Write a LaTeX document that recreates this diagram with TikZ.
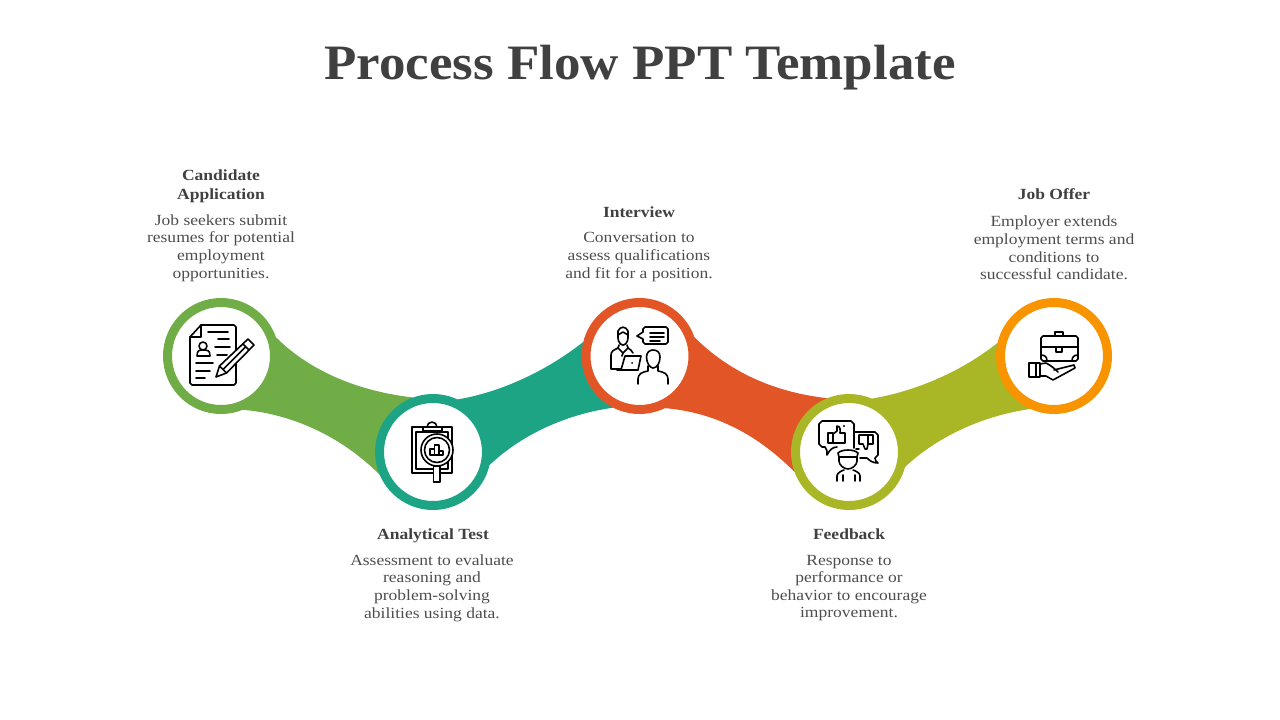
\documentclass[tikz,border=0pt]{standalone}
\usepackage{fontspec}
\setmainfont{Liberation Serif}
\newfontfamily\wideserif[FakeStretch=1.13]{Liberation Serif}
\newfontfamily\titleserif[FakeStretch=1.07]{Liberation Serif}
\usetikzlibrary{backgrounds}

\definecolor{titlegray}{HTML}{404040}
\definecolor{bodygray}{HTML}{4D4D4D}
\definecolor{cgreen}{HTML}{70AD47}
\definecolor{cteal}{HTML}{1DA485}
\definecolor{cred}{HTML}{E25527}
\definecolor{colive}{HTML}{A9B626}
\definecolor{corange}{HTML}{F79400}

\tikzset{
  stepcircle/.style={circle, draw=#1, line width=9pt, fill=white, minimum size=107pt, inner sep=0pt},
  headtext/.style={align=center, text=titlegray, font=\wideserif\bfseries\fontsize{15.5}{18.5}\selectfont},
  bodytext/.style={align=center, text=bodygray, font=\wideserif\fontsize{15.5}{17.6}\selectfont},
  icon/.style={line width=1.6pt, line join=round, line cap=round, black}
}

\begin{document}
\begin{tikzpicture}[x=1pt, y=-1pt]
\useasboundingbox (0,0) rectangle (1280,720);

\node[text=titlegray, font=\titleserif\bfseries\fontsize{49.5}{56}\selectfont] (title) at (640,68) {Process Flow PPT Template};

% circles
\node[stepcircle=cgreen] (candidate) at (221,356) {};
\node[stepcircle=cteal] (analytic) at (433,452) {};
\node[stepcircle=cred] (interview) at (639.5,356) {};
\node[stepcircle=colive] (feedback) at (849,452) {};
\node[stepcircle=corange] (joboffer) at (1054,356) {};

% bands behind the circles
\begin{scope}[on background layer]
\fill[cgreen] (candidate.19) .. controls +(35,35) and +(-53,-6) .. (analytic.110)
  -- (analytic.203) .. controls +(-40,-40) and +(47,4) .. (candidate.-68) -- cycle;
\fill[cteal] (analytic.65) .. controls +(42,-7) and +(-38,30) .. (interview.166)
  -- (interview.243) .. controls +(-43,6) and +(35,-33) .. (analytic.-13) -- cycle;
\fill[cred] (interview.19) .. controls +(35,35) and +(-53,-6) .. (feedback.112)
  -- (feedback.200) .. controls +(-40,-40) and +(47,4) .. (interview.-64) -- cycle;
\fill[colive] (feedback.67) .. controls +(42,-7) and +(-38,30) .. (joboffer.167)
  -- (joboffer.246) .. controls +(-43,6) and +(35,-33) .. (feedback.-15) -- cycle;
\end{scope}

% labels
\node[headtext] (candidatehead) at (221,186.5) {Candidate\\Application};
\node[bodytext] (candidatebody) at (221,248) {Job seekers submit\\resumes for potential\\employment\\opportunities.};
\node[headtext] (analytichead) at (433,535.5) {Analytical Test};
\node[bodytext] (analyticbody) at (432,588) {Assessment to evaluate\\reasoning and\\problem-solving\\abilities using data.};
\node[headtext] (interviewhead) at (639,212) {Interview};
\node[bodytext] (interviewbody) at (639,257) {Conversation to\\assess qualifications\\and fit for a position.};
\node[headtext] (feedbackhead) at (849,534) {Feedback};
\node[bodytext] (feedbackbody) at (849,588) {Response to\\performance or\\behavior to encourage\\improvement.};
\node[headtext] (joboffershead) at (1054,194) {Job Offer};
\node[bodytext] (jobofferbody) at (1054,248) {Employer extends\\employment terms and\\conditions to\\successful candidate.};

% document and pencil
\draw[icon] (190,337) -- (201,325) -- (234,325) -- (236,327) -- (236,383) -- (234,385) -- (192,385) -- (190,383) -- cycle;
\draw[icon] (190,337) -- (201,337) -- (201,325);
\draw[icon] (208,332) -- (228,332) (218,339) -- (229,339) (215,347) -- (230,347) (217,355) -- (227,355);
\draw[icon] (196,363) -- (213,363) (196,371) -- (210,371) (196,378) -- (205,378);
\draw[icon] (203,346) circle (4);
\draw[icon] (197,356) .. controls (197,350) and (200,350) .. (201,350) -- (205,350) .. controls (207,350) and (210,350) .. (210,356) -- cycle;
\draw[icon, fill=white] (216,377) -- (219.5,366) -- (248,339) -- (254,345) -- (226.5,373) -- cycle;
\draw[icon] (219.5,366) -- (226.5,373) (243,344) -- (249,350) (223,369.5) -- (245.5,347);

% clipboard and magnifier
\draw[icon] (412,427) rectangle (452,473);
\draw[icon] (416,432) rectangle (448,469);
\draw[icon, fill=white] (427,427) arc (180:360:5);
\draw[icon, fill=white] (423,427) rectangle (442,431);
\draw[icon, fill=white] (433.5,466) rectangle (440,482);
\draw[icon, fill=white] (437,450) circle (16);
\draw[icon] (437,450) circle (12.5);
\draw[icon] (430,455) rectangle (434.5,449) (434.5,455) rectangle (439,445) (439,455) rectangle (443,451);

% interview
\draw[icon] (618,331) .. controls (620,326) and (626,326) .. (628,331) -- (628,338) .. controls (628,342) and (625,345) .. (623,345) .. controls (621,345) and (618,342) .. (618,338) -- cycle;
\draw[icon] (618,335) -- (623,332) -- (628,335);
\draw[icon] (611,364) -- (611,355) .. controls (611,351) and (614,350) .. (618,348) -- (623,353) -- (628,348) .. controls (630,349) and (632,351) .. (633,353);
\draw[icon] (619,345) -- (618,348) (627,345) -- (628,348) (623,353) -- (622,356);
\draw[icon] (611,364) -- (611,369) -- (621,369);
\draw[icon, fill=white] (625,356) -- (641,356) -- (638,370) -- (621,370) -- cycle;
\draw[icon] (617,370) -- (638,370);
\fill (632,363) circle (1);
\draw[icon] (645,327) -- (666,327) -- (668,329) -- (668,342) -- (666,344) -- (645,344) -- (643,342) -- (643,339) -- (637,336) -- (643,332) -- (643,329) -- cycle;
\draw[icon] (650,333) -- (664,333) (650,337) -- (664,337) (650,341) -- (660,341);
\draw[icon, fill=white] (646.5,357) .. controls (646.5,352) and (650,350) .. (653,350) .. controls (657,350) and (660,352) .. (660,357) .. controls (660,363) and (657,368) .. (653,368) .. controls (650,368) and (646.5,363) .. (646.5,357) -- cycle;
\draw[icon] (648,366) -- (648,371) .. controls (642,372) and (638,374) .. (638,379) -- (638,384);
\draw[icon] (658,366) -- (658,371) .. controls (664,372) and (668,374) .. (668,379) -- (668,384);

% feedback
\draw[icon] (854,448) -- (854,424) -- (851,421) -- (822,421) -- (819,424) -- (819,444) -- (822,447) -- (825,447) .. controls (827,449) and (827,451) .. (827,455) .. controls (829,451) and (832,447) .. (837,447);
\draw[icon] (854,432) -- (875,432) -- (878,435) -- (878,455) -- (875,458) .. controls (875,460) and (876,462) .. (878,463) .. controls (873,463) and (870,461) .. (867,458) -- (860,458);
\draw[icon] (828,433) rectangle (833,443);
\draw[icon] (833,434) -- (837,431) -- (837,426) .. controls (841,426) and (840,431) .. (840,433) -- (845,433) -- (845,443) -- (833,443);
\fill (844,426) circle (1.2);
\draw[icon] (868,435) rectangle (873,444);
\draw[icon] (868,435) -- (859,435) -- (859,444) -- (863,444) -- (865,449) -- (867,449) -- (868,444);
\draw[icon] (856,449) -- (859,449);
\draw[icon, fill=white] (838,453) .. controls (842,449) and (854,449) .. (858,453) -- (857,457) -- (857,461) .. controls (857,465) and (852,469) .. (848,469) .. controls (844,469) and (839,465) .. (839,461) -- (839,457) -- cycle;
\draw[icon] (839,457) -- (857,457);
\draw[icon] (837,481) -- (837,476) .. controls (837,473) and (841,471) .. (844,470) (860,481) -- (860,476) .. controls (860,473) and (856,471) .. (853,470);
\draw[icon] (843,475) -- (843,481) (855,475) -- (855,481);

% briefcase and hand
\draw[icon] (1043,336) -- (1076,336) -- (1078,338) -- (1078,359) -- (1076,361) -- (1043,361) -- (1041,359) -- (1041,338) -- cycle;
\draw[icon] (1055,336) -- (1055,332) -- (1063,332) -- (1063,336);
\draw[icon] (1041,347) -- (1056,347) (1062,347) -- (1078,347);
\draw[icon] (1056,347) rectangle (1062,352);
\draw[icon] (1041,355) .. controls (1045,355) and (1047,357) .. (1047,361) (1078,355) .. controls (1074,355) and (1072,357) .. (1072,361);
\draw[icon] (1029,363) rectangle (1040,377);
\draw[icon] (1036,363) -- (1036,377);
\draw[icon] (1040,364) -- (1046,363) .. controls (1050,365) and (1054,368) .. (1058,372) (1054,370) -- (1074,365) -- (1075,368) -- (1053,380) -- (1046,376) -- (1040,376);
\end{tikzpicture}
\end{document}
